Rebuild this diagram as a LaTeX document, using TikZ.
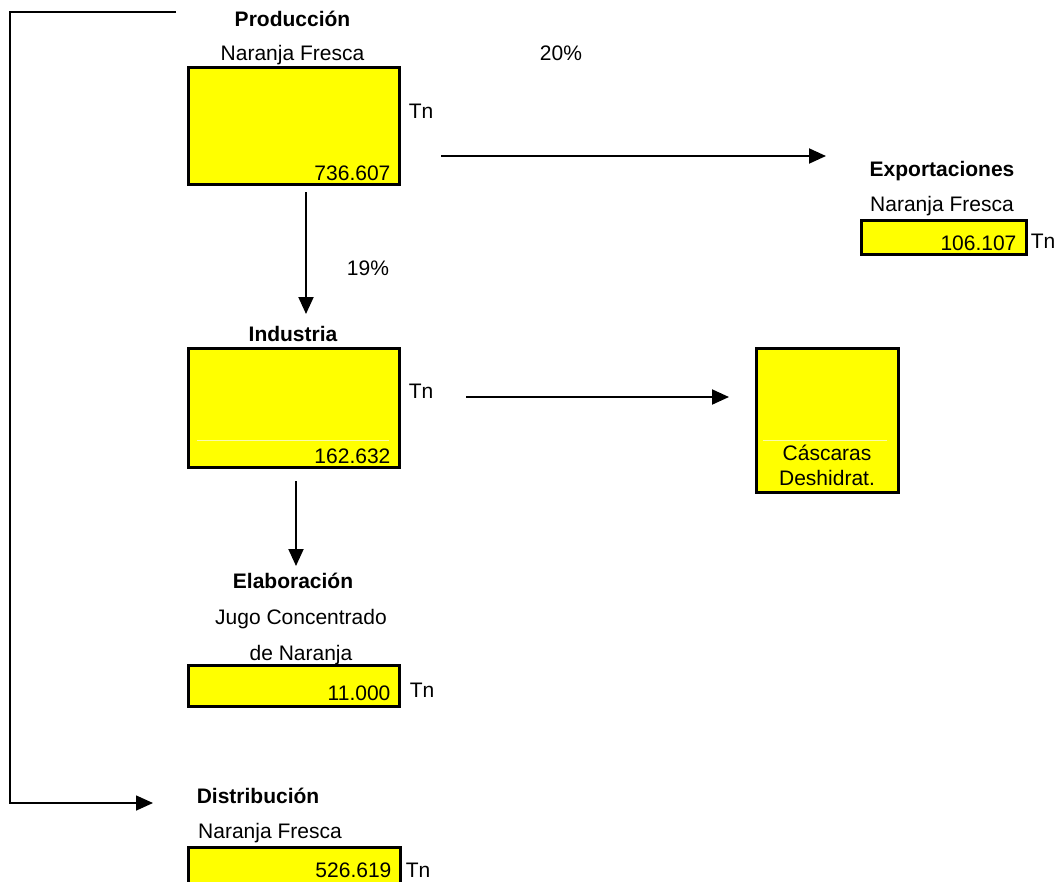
\documentclass[tikz,border=0pt]{standalone}
\usepackage{fontspec}
\setmainfont{Liberation Sans}
\usetikzlibrary{arrows.meta, calc, positioning}
\definecolor{amarillo}{RGB}{255,255,0}
\definecolor{borde}{RGB}{250,250,170}
\tikzset{
  cajon/.style={draw=black, line width=2.6pt, fill=amarillo, anchor=north west, inner sep=0pt},
  valor/.style={anchor=base east, inner sep=0pt},
  rotulo/.style={anchor=base, inner sep=0pt},
  titulo/.style={anchor=base, inner sep=0pt, font=\fontsize{21}{25}\selectfont\bfseries},
  flecha/.style={line width=2pt, -{Triangle[length=17pt,width=15pt]}},
  celda/.style={draw=borde, line width=0.8pt}
}

\begin{document}
\begin{tikzpicture}[x=1pt, y=-1pt, every node/.style={font=\fontsize{21}{25}\selectfont}]
  \useasboundingbox (0,0) rectangle (1062,881);
  \clip (0,0) rectangle (1062,881);

  % Produccion
  \node[titulo] (prodt) at (292.5,26) {Producción};
  \node[rotulo] (prods) at (292.5,60.5) {Naranja Fresca};
  \node[cajon, minimum width=211, minimum height=117] (prod) at (187,66) {};
  \node[valor] (prodv) at ($(prod.south east)+(-10,-5)$) {736.607};
  \node[rotulo] (prodtn) at (421,118) {Tn};
  \node[rotulo] (pexp) at (561,60) {20\%};

  % Exportaciones
  \node[titulo] (expt) at (942,176) {Exportaciones};
  \node[rotulo] (exps) at (942,211) {Naranja Fresca};
  \node[cajon, minimum width=165, minimum height=34] (exp) at (860,219) {};
  \node[valor] (expv) at ($(exp.south east)+(-11,-5)$) {106.107};
  \node[rotulo] (exptn) at (1043,248) {Tn};

  % Industria
  \node[rotulo] (pind) at (368,275) {19\%};
  \node[titulo] (indt) at (293,341) {Industria};
  \node[cajon, minimum width=211, minimum height=119] (ind) at (187,347) {};
  \draw[celda] (197,440) -- (389,440);
  \node[valor] (indv) at ($(ind.south east)+(-10,-5)$) {162.632};
  \node[rotulo] (indtn) at (421,398) {Tn};

  % Cascaras
  \node[cajon, minimum width=142, minimum height=144] (casc) at (755,347) {};
  \draw[celda] (763,440) -- (887,440);
  \node[anchor=south, inner sep=0pt, align=center] (cascv) at (827,486) {Cáscaras\\Deshidrat.};

  % Elaboracion
  \node[titulo] (elabt) at (293,588) {Elaboración};
  \node[rotulo] (elabs) at (301,624) {Jugo Concentrado};
  \node[rotulo] (elabs2) at (301,660) {de Naranja};
  \node[cajon, minimum width=211, minimum height=41] (elab) at (187,664) {};
  \node[valor] (elabv) at ($(elab.south east)+(-10,-7.5)$) {11.000};
  \node[rotulo] (elabtn) at (422,697.5) {Tn};

  % Distribucion
  \node[titulo] (distt) at (258,803) {Distribución};
  \node[rotulo] (dists) at (270,838) {Naranja Fresca};
  \node[cajon, minimum width=212, minimum height=38] (dist) at (187,846) {};
  \node[valor] (distv) at ($(dist.north east)+(-10,31)$) {526.619};
  \node[rotulo] (disttn) at (418,877) {Tn};

  % flujos
  \coordinate (a1) at (441,156);
  \coordinate (b1) at (826,156);
  \coordinate (a2) at (306,192);
  \coordinate (b2) at (306,314);
  \coordinate (a3) at (466,397);
  \coordinate (b3) at (729,397);
  \coordinate (a4) at (296,481);
  \coordinate (b4) at (296,566);
  \coordinate (lazo1) at (176,12);
  \coordinate (lazo2) at (153,803);

  \draw[flecha] (a1) -- (b1);
  \draw[flecha] (a2) -- (b2);
  \draw[flecha] (a3) -- (b3);
  \draw[flecha] (a4) -- (b4);
  \draw[flecha, line width=1.6pt] (lazo1) -- ++(-166,0) |- (lazo2);
\end{tikzpicture}
\end{document}
